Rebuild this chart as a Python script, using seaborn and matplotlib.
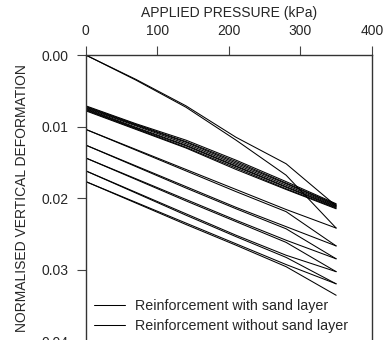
import numpy as np
import pandas as pd
import matplotlib
matplotlib.use("Agg")
import matplotlib.pyplot as plt
import seaborn as sns

# ---------- DATA ----------
pressure = [0, 70, 140, 210, 280, 350]

# top pair (starting at zero)
top_with = [0.0000, 0.0034, 0.0071, 0.0115, 0.0152, 0.0211]
top_without = [0.0000, 0.0035, 0.0073, 0.0119, 0.0168, 0.0242]

# thick bundle of near identical curves
bundle_with = [
    [0.0071, 0.0096, 0.0119, 0.0147, 0.0177, 0.0208],
    [0.0073, 0.0098, 0.0122, 0.0151, 0.0180, 0.0210],
    [0.0075, 0.0101, 0.0126, 0.0155, 0.0184, 0.0212],
    [0.0077, 0.0103, 0.0129, 0.0158, 0.0187, 0.0214],
]
bundle_without = [
    [0.0072, 0.0097, 0.0121, 0.0149, 0.0179, 0.0209],
    [0.0074, 0.0099, 0.0124, 0.0153, 0.0182, 0.0211],
    [0.0076, 0.0102, 0.0127, 0.0156, 0.0185, 0.0213],
    [0.0078, 0.0104, 0.0130, 0.0160, 0.0188, 0.0215],
]

# lower pairs
pairs_with = [
    [0.0104, 0.0132, 0.0160, 0.0188, 0.0216, 0.0242],
    [0.0126, 0.0155, 0.0184, 0.0213, 0.0240, 0.0267],
    [0.0144, 0.0173, 0.0202, 0.0231, 0.0259, 0.0285],
    [0.0162, 0.0192, 0.0222, 0.0252, 0.0280, 0.0303],
    [0.0177, 0.0206, 0.0235, 0.0264, 0.0293, 0.0320],
]
pairs_without = [
    [0.0104, 0.0133, 0.0162, 0.0191, 0.0219, 0.0267],
    [0.0126, 0.0156, 0.0186, 0.0215, 0.0243, 0.0285],
    [0.0144, 0.0174, 0.0204, 0.0233, 0.0262, 0.0303],
    [0.0162, 0.0193, 0.0224, 0.0254, 0.0283, 0.0320],
    [0.0177, 0.0207, 0.0237, 0.0266, 0.0296, 0.0336],
]

LABEL_WITH = "Reinforcement with sand layer"
LABEL_WITHOUT = "Reinforcement without sand layer"

# ---------- BUILD TABLE ----------
rows = []
def add(series, label, name):
    for p, d in zip(pressure, series):
        rows.append({"pressure": p, "deform": d, "case": label, "series": name})

add(top_with, LABEL_WITH, "top_w")
add(top_without, LABEL_WITHOUT, "top_wo")
for i, s in enumerate(bundle_with):
    add(s, LABEL_WITH, f"bw{i}")
for i, s in enumerate(bundle_without):
    add(s, LABEL_WITHOUT, f"bwo{i}")
for i, s in enumerate(pairs_with):
    add(s, LABEL_WITH, f"pw{i}")
for i, s in enumerate(pairs_without):
    add(s, LABEL_WITHOUT, f"pwo{i}")
df = pd.DataFrame(rows)

# ---------- PLOT ----------
FS = 10
sns.set_theme(style="white")
plt.rcParams['font.family'] = ['Liberation Sans', 'DejaVu Sans']
plt.rcParams['font.size'] = FS

fig = plt.figure(figsize=(3.85, 3.4), dpi=100)
ax = fig.add_axes([0.223, -0.003, 0.743, 0.841])

sns.lineplot(data=df, x="pressure", y="deform", hue="case", units="series",
             estimator=None, palette={LABEL_WITH: "black", LABEL_WITHOUT: "black"},
             linewidth=0.75, ax=ax, sort=False)

ax.set_xlim(0, 400)
ax.set_ylim(0.04, 0.0)
ax.set_xticks([0, 100, 200, 300, 400])
ax.set_yticks([0.00, 0.01, 0.02, 0.03, 0.04])
ax.set_yticklabels(["0.00", "0.01", "0.02", "0.03", "0.04"])
ax.xaxis.tick_top()
ax.xaxis.set_label_position("top")
ax.set_xlabel("APPLIED PRESSURE (kPa)", fontsize=FS, labelpad=5)
ax.set_ylabel("NORMALISED VERTICAL DEFORMATION", fontsize=FS, labelpad=9)
ax.tick_params(axis="both", direction="out", length=6.5, width=0.8,
               color="#444444", labelsize=FS, pad=6)
ax.tick_params(axis="x", top=True, bottom=False)
ax.tick_params(axis="y", left=True)
for sp in ax.spines.values():
    sp.set_color("#333333")
    sp.set_linewidth(1.0)

handles, labels = ax.get_legend_handles_labels()
ax.legend(handles, labels, loc="lower left", bbox_to_anchor=(0.0, 0.0),
          frameon=False, fontsize=10.3, handlelength=2.2, handletextpad=0.7,
          labelspacing=0.4, borderaxespad=0.15)

fig.savefig("out.png", dpi=100)
